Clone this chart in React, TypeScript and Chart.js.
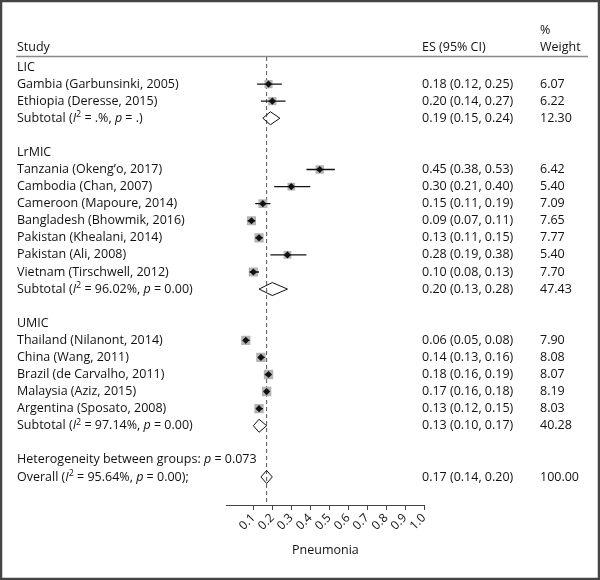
import React, { useEffect, useRef } from 'react';
import { Chart, registerables } from 'chart.js';

Chart.register(...registerables);

// ---- Data ----
const rowLabels: string[] = [
  'LIC',
  'Gambia (Garbunsinki, 2005)',
  'Ethiopia (Deresse, 2015)',
  'Subtotal (*I*^2^ = .%, *p* = .)',
  '',
  'LrMIC',
  'Tanzania (Okeng\u2019o, 2017)',
  'Cambodia (Chan, 2007)',
  'Cameroon (Mapoure, 2014)',
  'Bangladesh (Bhowmik, 2016)',
  'Pakistan (Khealani, 2014)',
  'Pakistan (Ali, 2008)',
  'Vietnam (Tirschwell, 2012)',
  'Subtotal (*I*^2^ = 96.02%, *p* = 0.00)',
  '',
  'UMIC',
  'Thailand (Nilanont, 2014)',
  'China (Wang, 2011)',
  'Brazil (de Carvalho, 2011)',
  'Malaysia (Aziz, 2015)',
  'Argentina (Sposato, 2008)',
  'Subtotal (*I*^2^ = 97.14%, *p* = 0.00)',
  '',
  'Heterogeneity between groups: *p* = 0.073',
  'Overall (*I*^2^ = 95.64%, *p* = 0.00);',
];

const rowKinds: string[] = [
  'group', 'study', 'study', 'subtotal', 'blank',
  'group', 'study', 'study', 'study', 'study', 'study', 'study', 'study', 'subtotal', 'blank',
  'group', 'study', 'study', 'study', 'study', 'study', 'subtotal', 'blank',
  'note', 'overall',
];

const esValues: (number | null)[] = [
  null, 0.18, 0.20, 0.19, null,
  null, 0.45, 0.30, 0.15, 0.09, 0.13, 0.28, 0.10, 0.20, null,
  null, 0.06, 0.14, 0.18, 0.17, 0.13, 0.13, null,
  null, 0.17,
];

const ciLower: (number | null)[] = [
  null, 0.12, 0.14, 0.15, null,
  null, 0.38, 0.21, 0.11, 0.07, 0.11, 0.19, 0.08, 0.13, null,
  null, 0.05, 0.13, 0.16, 0.16, 0.12, 0.10, null,
  null, 0.14,
];

const ciUpper: (number | null)[] = [
  null, 0.25, 0.27, 0.24, null,
  null, 0.53, 0.40, 0.19, 0.11, 0.15, 0.38, 0.13, 0.28, null,
  null, 0.08, 0.16, 0.19, 0.18, 0.15, 0.17, null,
  null, 0.20,
];

const weights: (number | null)[] = [
  null, 6.07, 6.22, 12.30, null,
  null, 6.42, 5.40, 7.09, 7.65, 7.77, 5.40, 7.70, 47.43, null,
  null, 7.90, 8.08, 8.07, 8.19, 8.03, 40.28, null,
  null, 100.0,
];

const xTicks: number[] = [0.1, 0.2, 0.3, 0.4, 0.5, 0.6, 0.7, 0.8, 0.9, 1.0];
const overallES = 0.17;
const axisTitle = 'Pneumonia';
const headerStudy = 'Study';
const headerES = 'ES (95% CI)';
const headerWeight1 = '%';
const headerWeight2 = 'Weight';

// ---- Style ----
const FONT = '"Open Sans", "Noto Sans", sans-serif';
const FS = 12.5;
const TEXT = '#111';
const COL_STUDY = 17;
const COL_ES = 422;
const COL_W = 540;
const Y_MIN = -0.585;
const Y_MAX = 25.64;

function drawRich(ctx: CanvasRenderingContext2D, text: string, x: number, y: number) {
  const parts = text.split(/(\*[^*]+\*|\^[^^]+\^)/).filter((p) => p.length > 0);
  let cx = x;
  for (const p of parts) {
    let t = p;
    let font = `${FS}px ${FONT}`;
    let dy = 0;
    if (p.startsWith('*') && p.endsWith('*') && p.length > 2) {
      t = p.slice(1, -1);
      font = `italic ${FS}px ${FONT}`;
    } else if (p.startsWith('^') && p.endsWith('^') && p.length > 2) {
      t = p.slice(1, -1);
      font = `${(FS * 0.72).toFixed(1)}px ${FONT}`;
      dy = -FS * 0.3;
    }
    ctx.font = font;
    ctx.fillText(t, cx, y + dy);
    cx += ctx.measureText(t).width;
  }
}

const forestPlugin = {
  id: 'forest',
  beforeDraw(chart: any) {
    const ctx = chart.ctx;
    ctx.save();
    ctx.fillStyle = '#fff';
    ctx.fillRect(0, 0, chart.width, chart.height);
    ctx.restore();
  },
  afterDatasetsDraw(chart: any) {
    const ctx = chart.ctx as CanvasRenderingContext2D;
    const xs = chart.scales.x;
    const ys = chart.scales.y;
    ctx.save();
    rowKinds.forEach((k, i) => {
      if (k !== 'subtotal' && k !== 'overall') return;
      const lo = xs.getPixelForValue(ciLower[i] as number);
      const hi = xs.getPixelForValue(ciUpper[i] as number);
      const mid = xs.getPixelForValue(esValues[i] as number);
      const y = ys.getPixelForValue(i);
      const h = 6.5;
      ctx.beginPath();
      ctx.moveTo(lo, y);
      ctx.lineTo(mid, y - h);
      ctx.lineTo(hi, y);
      ctx.lineTo(mid, y + h);
      ctx.closePath();
      ctx.strokeStyle = '#111';
      ctx.lineWidth = 1;
      ctx.stroke();
    });
    ctx.restore();
  },
  afterDraw(chart: any) {
    const ctx = chart.ctx as CanvasRenderingContext2D;
    const ys = chart.scales.y;
    ctx.save();
    ctx.fillStyle = TEXT;
    ctx.textBaseline = 'middle';
    ctx.textAlign = 'left';
    // header
    ctx.font = `${FS}px ${FONT}`;
    ctx.fillText(headerStudy, COL_STUDY, 47);
    ctx.fillText(headerES, COL_ES, 47);
    ctx.fillText(headerWeight1, COL_W, 30);
    ctx.fillText(headerWeight2, COL_W, 47);
    ctx.strokeStyle = '#888';
    ctx.lineWidth = 1.5;
    ctx.beginPath();
    ctx.moveTo(16, 56.5);
    ctx.lineTo(588, 56.5);
    ctx.stroke();
    // rows
    rowLabels.forEach((lab, i) => {
      const y = ys.getPixelForValue(i);
      ctx.fillStyle = TEXT;
      if (lab) drawRich(ctx, lab, COL_STUDY, y);
      const es = esValues[i];
      if (es !== null) {
        ctx.font = `${FS}px ${FONT}`;
        const s = `${es.toFixed(2)} (${(ciLower[i] as number).toFixed(2)}, ${(ciUpper[i] as number).toFixed(2)})`;
        ctx.fillText(s, COL_ES, y);
        ctx.fillText((weights[i] as number).toFixed(2), COL_W, y);
      }
    });
    // frame
    ctx.strokeStyle = '#444';
    ctx.lineWidth = 2.5;
    ctx.strokeRect(1, 1, chart.width - 2, chart.height - 2);
    ctx.restore();
  },
};

export default function App() {
  const ref = useRef<HTMLCanvasElement | null>(null);
  useEffect(() => {
    document.body.style.margin = '0';
    const canvas = ref.current;
    if (!canvas) return;

    const studyIdx = rowKinds.map((k, i) => (k === 'study' ? i : -1)).filter((i) => i >= 0);
    const boxData = studyIdx.map((i) => ({ x: esValues[i] as number, y: i }));
    const boxRadii = studyIdx.map((i) => (3.3 * Math.sqrt(weights[i] as number)) / Math.SQRT2);

    const ciDatasets = studyIdx.map((i) => ({
      type: 'scatter' as const,
      data: [
        { x: ciLower[i] as number, y: i },
        { x: ciUpper[i] as number, y: i },
      ],
      showLine: true,
      borderColor: '#111',
      borderWidth: 1.3,
      pointRadius: 0,
      order: 2,
    }));

    const chart = new Chart(canvas, {
      type: 'scatter',
      data: {
        datasets: [
          {
            data: [
              { x: overallES, y: Y_MIN },
              { x: overallES, y: Y_MAX },
            ],
            showLine: true,
            borderColor: '#555',
            borderWidth: 1,
            borderDash: [4, 3],
            pointRadius: 0,
            order: 4,
          } as any,
          {
            data: boxData,
            pointStyle: 'rect',
            pointRadius: boxRadii,
            backgroundColor: '#b4b4b4',
            borderWidth: 0,
            borderColor: '#b4b4b4',
            order: 3,
          } as any,
          ...ciDatasets,
          {
            data: boxData,
            pointStyle: 'rectRot',
            pointRadius: 3.6,
            backgroundColor: '#111',
            borderColor: '#111',
            borderWidth: 0,
            order: 1,
          } as any,
        ],
      },
      options: {
        responsive: false,
        animation: false,
        events: [],
        layout: { padding: { left: 226.8, right: 176, top: 57, bottom: 0 } },
        plugins: {
          legend: { display: false },
          tooltip: { enabled: false },
          title: { display: false },
        },
        scales: {
          x: {
            type: 'linear',
            min: -0.04,
            max: 1.0,
            afterBuildTicks: (s: any) => {
              s.ticks = xTicks.map((v) => ({ value: v }));
            },
            afterFit: (s: any) => {
              s.height = 75;
            },
            ticks: {
              autoSkip: false,
              minRotation: 45,
              maxRotation: 45,
              padding: 1,
              color: TEXT,
              font: { family: FONT, size: 12 },
              callback: (v: any) => Number(v).toFixed(1),
            },
            grid: {
              drawOnChartArea: false,
              drawTicks: true,
              tickLength: 5,
              color: '#444',
              lineWidth: 1,
            },
            border: { display: true, color: '#444', width: 1 },
            title: {
              display: true,
              text: axisTitle,
              color: TEXT,
              font: { family: FONT, size: 12.5 },
              padding: { top: 0, bottom: 22 },
            },
          },
          y: {
            type: 'linear',
            display: false,
            reverse: true,
            min: Y_MIN,
            max: Y_MAX,
          },
        },
      },
      plugins: [forestPlugin],
    } as any);
    return () => chart.destroy();
  }, []);

  return (
    <div style={{ width: 600, height: 580 }}>
      <canvas ref={ref} width={600} height={580} style={{ display: 'block', width: 600, height: 580 }} />
    </div>
  );
}
